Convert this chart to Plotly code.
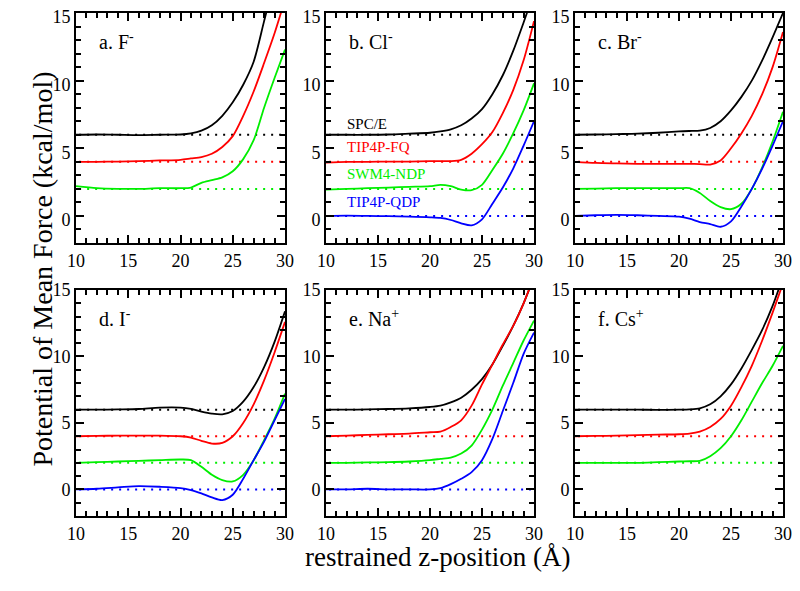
import plotly.graph_objects as go

X = [10, 12, 14, 16, 18, 20, 21, 22, 23, 24, 25, 26, 27, 28, 29, 30]

# Panel a: F-
A_SPCE = [6.0, 6.02, 6.0, 5.98, 6.0, 6.02, 6.1, 6.3, 6.7, 7.4, 8.4, 9.7, 11.4, 14.4, 17.5, 21]
A_FQ = [4.0, 4.0, 4.02, 4.05, 4.1, 4.15, 4.25, 4.35, 4.6, 5.1, 5.9, 7.4, 9.2, 11.3, 13.5, 16.0]
A_NDP = [2.2, 2.05, 2.0, 2.0, 2.05, 2.05, 2.1, 2.45, 2.65, 2.85, 3.3, 4.2, 5.6, 8.0, 10.2, 12.3]
# Panel b: Cl-
B_SPCE = [6.0, 6.0, 6.0, 6.02, 6.08, 6.15, 6.25, 6.4, 6.7, 7.2, 7.9, 9.0, 10.4, 12.2, 14.3, 16.5]
B_FQ = [3.95, 4.0, 4.0, 4.02, 4.02, 4.05, 4.05, 4.05, 4.15, 4.6, 5.3, 6.2, 7.6, 9.3, 11.5, 14.4]
B_NDP = [1.95, 2.0, 2.05, 2.1, 2.15, 2.2, 2.3, 2.2, 1.95, 1.9, 2.3, 3.4, 4.6, 6.1, 7.8, 9.8]
B_QDP = [0.0, 0.02, 0.0, -0.02, -0.05, -0.1, -0.15, -0.3, -0.55, -0.7, -0.25, 0.9, 2.1, 3.5, 5.2, 7.0]
# Panel c: Br-
C_SPCE = [6.0, 6.02, 6.05, 6.08, 6.15, 6.25, 6.28, 6.3, 6.5, 7.0, 7.8, 8.8, 10.0, 11.5, 13.2, 15.0]
C_FQ = [4.0, 3.92, 3.88, 3.85, 3.85, 3.85, 3.85, 3.83, 3.8, 4.1, 5.0, 6.1, 7.4, 9.0, 11.0, 13.6]
C_NDP = [2.0, 2.02, 2.05, 2.05, 2.05, 2.05, 2.05, 1.7, 1.1, 0.65, 0.5, 0.9, 2.0, 3.6, 5.5, 7.7]
C_QDP = [0.0, 0.05, 0.08, 0.05, 0.0, -0.05, -0.2, -0.45, -0.6, -0.8, -0.4, 0.7, 2.0, 3.5, 5.2, 7.0]
# Panel d: I-
D_SPCE = [6.0, 6.0, 6.02, 6.05, 6.15, 6.15, 6.05, 5.85, 5.7, 5.65, 5.9, 6.6, 7.7, 9.2, 11.1, 13.4]
D_FQ = [4.0, 4.02, 4.05, 4.05, 4.05, 4.0, 3.9, 3.65, 3.45, 3.5, 4.0, 5.0, 6.4, 8.2, 10.3, 12.6]
D_NDP = [2.0, 2.05, 2.1, 2.15, 2.2, 2.25, 2.2, 1.7, 1.1, 0.7, 0.6, 1.1, 2.2, 3.7, 5.3, 7.2]
D_QDP = [0.0, 0.05, 0.15, 0.25, 0.2, 0.1, -0.05, -0.3, -0.6, -0.8, -0.4, 0.8, 2.2, 3.6, 5.2, 6.8]
# Panel e: Na+
E_SPCE = [6.0, 6.0, 6.02, 6.05, 6.1, 6.2, 6.3, 6.55, 6.9, 7.5, 8.3, 9.4, 10.8, 12.3, 14.0, 16.0]
E_FQ = [4.0, 4.05, 4.1, 4.15, 4.2, 4.3, 4.35, 4.7, 5.2, 6.3, 7.9, 9.4, 10.9, 12.3, 14.0, 16.0]
E_NDP = [2.0, 2.0, 2.03, 2.05, 2.1, 2.2, 2.3, 2.4, 2.7, 3.3, 4.5, 6.0, 7.8, 9.5, 11.2, 12.7]
E_QDP = [0.0, 0.0, 0.05, 0.0, 0.0, 0.0, 0.1, 0.4, 0.8, 1.3, 2.2, 3.8, 5.9, 8.0, 10.2, 11.8]
# Panel f: Cs+
F_SPCE = [6.0, 6.0, 6.0, 6.0, 5.98, 6.0, 6.02, 6.1, 6.4, 7.0, 7.9, 9.1, 10.5, 12.0, 13.8, 16.0]
F_FQ = [4.0, 4.02, 4.05, 4.08, 4.12, 4.15, 4.2, 4.35, 4.7, 5.3, 6.3, 7.7, 9.3, 11.2, 13.3, 15.5]
F_NDP = [2.0, 2.0, 2.0, 2.0, 2.05, 2.1, 2.12, 2.15, 2.5, 3.1, 4.0, 5.2, 6.6, 8.0, 9.3, 10.8]

PANEL_LABELS = ["a. F<sup>-</sup>", "b. Cl<sup>-</sup>", "c. Br<sup>-</sup>",
                "d. I<sup>-</sup>", "e. Na<sup>+</sup>", "f. Cs<sup>+</sup>"]
MODEL_NAMES = ["SPC/E", "TIP4P-FQ", "SWM4-NDP", "TIP4P-QDP"]
OFFSETS = [6, 4, 2, 0]
COLORS = ["#000000", "#ff0000", "#00ee00", "#0000ff"]

PANELS = [
    [A_SPCE, A_FQ, A_NDP],
    [B_SPCE, B_FQ, B_NDP, B_QDP],
    [C_SPCE, C_FQ, C_NDP, C_QDP],
    [D_SPCE, D_FQ, D_NDP, D_QDP],
    [E_SPCE, E_FQ, E_NDP, E_QDP],
    [F_SPCE, F_FQ, F_NDP],
]

# The page's body has an 8px margin, so the figure starts 8px in;
# everything is placed in page pixels.
OFF = 8
W, H = 800 - 2 * OFF, 578
col_px = [(76, 285), (326, 534), (575, 783)]
row_px = [(13, 243), (290, 516)]

def px_x(p):
    return (p - OFF) / W

def px_y(p):
    return 1 - (p - OFF) / H

fig = go.Figure()
font_family = "Liberation Serif, serif"

for i, series in enumerate(PANELS):
    r, c = divmod(i, 3)
    n = i + 1
    xa = "x" if n == 1 else f"x{n}"
    ya = "y" if n == 1 else f"y{n}"
    for k in range(len(series)):
        fig.add_trace(go.Scatter(x=[10.3, 29.7], y=[OFFSETS[k], OFFSETS[k]], mode="lines",
                                 line=dict(color=COLORS[k], width=2, dash="2px,6px"),
                                 xaxis=xa, yaxis=ya, showlegend=False, hoverinfo="skip"))
    for k, ys in enumerate(series):
        fig.add_trace(go.Scatter(x=X, y=ys, mode="lines",
                                 line=dict(color=COLORS[k], width=1.8, shape="spline", smoothing=0.8),
                                 xaxis=xa, yaxis=ya, showlegend=False, name=MODEL_NAMES[k]))
    x0, x1 = col_px[c]
    y0, y1 = row_px[r]
    axcommon = dict(showgrid=False, zeroline=False, showline=True, linecolor="black", linewidth=2,
                    mirror="allticks", ticks="inside", ticklen=8, tickwidth=1.5, tickcolor="black",
                    automargin=False, ticklabeloverflow="allow",
                    tickfont=dict(family=font_family, size=18, color="black"))
    fig.layout[("xaxis" if n == 1 else f"xaxis{n}")] = dict(
        domain=[px_x(x0), px_x(x1)], range=[10, 30], anchor=ya, tickvals=[10, 15, 20, 25, 30],
        minor=dict(dtick=1, tick0=10, ticks="inside", ticklen=5, tickwidth=1.5, tickcolor="black"),
        **axcommon)
    fig.layout[("yaxis" if n == 1 else f"yaxis{n}")] = dict(
        domain=[px_y(y1), px_y(y0)], range=[-2, 15], anchor=xa, tickvals=[0, 5, 10, 15],
        ticklabelshift=4 if r == 0 else 0,
        minor=dict(dtick=1, tick0=0, ticks="inside", ticklen=5, tickwidth=1.5, tickcolor="black"),
        **axcommon)
    fig.add_annotation(x=12.0, y=12.9, xref=xa, yref=ya, text=PANEL_LABELS[i], showarrow=False,
                       xanchor="left", yanchor="middle",
                       font=dict(family=font_family, size=20, color="black"))

for k, (name, yy) in enumerate(zip(MODEL_NAMES, [6.8, 5.1, 3.1, 1.05])):
    fig.add_annotation(x=11.8, y=yy, xref="x2", yref="y2", text=name, showarrow=False,
                       xanchor="left", yanchor="middle",
                       font=dict(family=font_family, size=15, color=COLORS[k]))

fig.add_annotation(x=px_x(25), y=px_y(269), xref="paper", yref="paper",
                   text="Potential of Mean Force (kcal/mol)", textangle=-90, showarrow=False,
                   font=dict(family=font_family, size=28, color="black"))
fig.add_annotation(x=px_x(437), y=px_y(574), xref="paper", yref="paper",
                   text="restrained z-position (Å)", showarrow=False,
                   font=dict(family=font_family, size=27, color="black"))

fig.update_layout(template="none", width=W, height=H, margin=dict(l=0, r=0, t=0, b=0),
                  paper_bgcolor="white", plot_bgcolor="white", showlegend=False)
fig.write_html("out.html")
